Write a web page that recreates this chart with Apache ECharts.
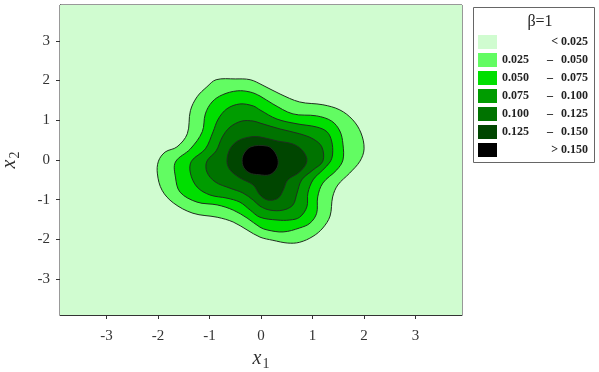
<!DOCTYPE html>
<html lang="en">
<head>
  <meta charset="UTF-8">
  <title>Density contours, β=1</title>
  <script src="https://cdn.jsdelivr.net/npm/echarts@6/dist/echarts.min.js"></script>
  <style>
    * { margin: 0; padding: 0; box-sizing: border-box; }
    body { background: #fff; }
    #chart { width: 599px; height: 372px; }
  </style>
</head>
<body>
<div id="chart"></div>
<script>
// tick labels for both axes
const xTicks = [-3, -2, -1, 0, 1, 2, 3];
const yTicks = [-3, -2, -1, 0, 1, 2, 3];

// legend entries, lowest level first
const levelNames = ['< 0.025', '0.025 – 0.050', '0.050 – 0.075', '0.075 – 0.100',
                    '0.100 – 0.125', '0.125 – 0.150', '> 0.150'];

// whole plotted square (level below 0.025)
const plotExtent = [[-3.9, -3.9], [3.9, -3.9], [3.9, 3.9], [-3.9, 3.9]];

// contour boundaries, [x1, x2]
const contour025 = [[-0.87,2.02],[-0.50,2.04],[-0.21,2.02],[0.02,1.89],[0.37,1.66],[0.75,1.46],
  [1.20,1.39],[1.53,1.26],[1.78,1.01],[1.94,0.68],[2.00,0.28],[1.92,-0.03],[1.72,-0.33],
  [1.49,-0.63],[1.39,-0.93],[1.34,-1.41],[1.20,-1.71],[1.01,-1.92],[0.75,-2.07],[0.52,-2.09],
  [0.23,-2.02],[-0.02,-1.94],[-0.27,-1.76],[-0.54,-1.56],[-0.85,-1.44],[-1.32,-1.34],
  [-1.70,-1.08],[-1.92,-0.76],[-2.01,-0.35],[-1.99,-0.03],[-1.86,0.20],[-1.63,0.33],
  [-1.43,0.66],[-1.37,1.24],[-1.24,1.59],[-1.05,1.84]];
const contour050 = [[-0.75,1.64],[-0.46,1.74],[-0.21,1.71],[-0.02,1.61],[0.23,1.41],[0.62,1.16],
  [1.08,1.11],[1.37,0.98],[1.53,0.73],[1.59,0.40],[1.59,0.00],[1.47,-0.25],[1.20,-0.58],
  [1.10,-0.93],[1.08,-1.34],[0.95,-1.59],[0.75,-1.71],[0.43,-1.81],[0.12,-1.76],[-0.02,-1.69],
  [-0.27,-1.46],[-0.54,-1.26],[-0.85,-1.13],[-1.24,-1.06],[-1.57,-0.81],[-1.66,-0.43],
  [-1.66,-0.05],[-1.37,0.28],[-1.14,0.71],[-1.08,1.16],[-0.95,1.46]];
const contour075 = [[-0.66,1.29],[-0.41,1.41],[-0.15,1.36],[-0.02,1.26],[0.31,1.03],[0.70,0.91],
  [1.08,0.83],[1.28,0.71],[1.37,0.48],[1.39,0.15],[1.34,-0.05],[1.20,-0.25],[1.01,-0.50],
  [0.91,-0.83],[0.89,-1.18],[0.75,-1.44],[0.56,-1.51],[0.31,-1.51],[-0.02,-1.44],[-0.21,-1.26],
  [-0.41,-1.06],[-0.66,-0.96],[-0.99,-0.88],[-1.24,-0.68],[-1.37,-0.33],[-1.35,-0.03],
  [-1.08,0.28],[-0.93,0.71],[-0.83,1.03]];
const contour100 = [[-0.60,0.83],[-0.37,0.98],[-0.15,0.98],[-0.02,0.93],[0.37,0.78],[0.75,0.66],
  [1.01,0.53],[1.18,0.33],[1.20,-0.03],[1.01,-0.25],[0.79,-0.50],[0.70,-0.83],[0.62,-1.13],
  [0.43,-1.26],[0.17,-1.26],[-0.02,-1.16],[-0.15,-1.01],[-0.35,-0.83],[-0.60,-0.71],
  [-0.89,-0.55],[-1.05,-0.30],[-1.05,-0.03],[-0.87,0.23],[-0.75,0.58]];
const contour125 = [[-0.60,0.28],[-0.45,0.48],[-0.21,0.58],[-0.02,0.58],[0.31,0.48],[0.62,0.40],
  [0.81,0.23],[0.89,-0.03],[0.75,-0.30],[0.52,-0.50],[0.43,-0.76],[0.33,-0.96],[0.14,-1.01],
  [-0.02,-0.88],[-0.15,-0.63],[-0.41,-0.45],[-0.60,-0.25],[-0.66,-0.03]];
const contour150 = [[-0.20,0.33],[0.12,0.35],[0.25,0.23],[0.33,0.01],[0.31,-0.20],[0.17,-0.37],
  [-0.04,-0.37],[-0.23,-0.32],[-0.35,-0.15],[-0.35,0.11]];

const levelShapes = [plotExtent, contour025, contour050, contour075, contour100, contour125, contour150];
const levelColors = ['#d0fcd0', '#62fc62', '#00df00', '#009c00', '#007300', '#004600', '#000000'];

const serif = '"Liberation Serif", "DejaVu Serif", serif';

const series = levelShapes.map((pts, i) => ({
  type: 'custom',
  name: levelNames[i],
  coordinateSystem: 'cartesian2d',
  data: pts,
  encode: { x: 0, y: 1 },
  itemStyle: { color: levelColors[i] },
  silent: true,
  z: 2 + i,
  renderItem: function (params, api) {
    if (params.dataIndex !== 0) return;
    const points = pts.map(p => api.coord(p));
    return {
      type: 'polygon',
      shape: { points: points, smooth: i === 0 ? 0 : 0.35 },
      style: { fill: levelColors[i], stroke: i === 0 ? null : '#1f2f1f', lineWidth: i === 0 ? 0 : 1 }
    };
  }
}));

const axisFont = { fontFamily: serif, fontSize: 15, color: '#333', formatter: v => String(v) };
const nameRich = {
  i: { fontFamily: serif, fontStyle: 'italic', fontSize: 20, color: '#333' },
  s: { fontFamily: serif, fontSize: 14, color: '#333', padding: [10, 0, 0, 1] }
};

const chart = echarts.init(document.getElementById('chart'), null, { renderer: 'canvas' });
chart.setOption({
  animation: false,
  grid: { left: 60, right: 137, top: 5, bottom: 57, show: true, borderColor: '#333', borderWidth: 1,
          containLabel: false, outerBoundsMode: 'none' },
  xAxis: {
    type: 'value', min: -3.9, max: 3.9,
    axisLine: { onZero: false, lineStyle: { color: '#333' } },
    axisTick: { customValues: xTicks, length: 4, lineStyle: { color: '#333' } },
    axisLabel: Object.assign({ customValues: xTicks, margin: 14 }, axisFont),
    splitLine: { show: false },
    name: '{i|x}{s|1}', nameLocation: 'middle', nameGap: 31,
    nameTextStyle: { rich: nameRich }
  },
  yAxis: {
    type: 'value', min: -3.9, max: 3.9,
    axisLine: { onZero: false, lineStyle: { color: '#333' } },
    axisTick: { customValues: yTicks, length: 4, lineStyle: { color: '#333' } },
    axisLabel: Object.assign({ customValues: yTicks, margin: 10 }, axisFont),
    splitLine: { show: false },
    name: '{i|x}{s|2}', nameLocation: 'middle', nameGap: 38, nameRotate: 90,
    nameTextStyle: { rich: nameRich }
  },
  graphic: [
    { type: 'rect', z: 0, shape: { x: 473.5, y: 7.5, width: 121, height: 155 },
      style: { fill: '#fff', stroke: '#666', lineWidth: 1 } },
    { type: 'text', z: 1, style: { x: 540, y: 22, text: 'β=1', align: 'center', verticalAlign: 'middle',
      font: '16px ' + serif, fill: '#222' } }
  ],
  legend: {
    orient: 'vertical', left: 478, top: 35, padding: 0,
    itemWidth: 19, itemHeight: 14, itemGap: 4, itemStyle: { borderWidth: 0 },
    selectedMode: false, icon: 'rect',
    data: levelNames,
    formatter: function (name) {
      const parts = name.split(' – ');
      if (parts.length === 1) return '{r|' + name + '}';
      return '{a|' + parts[0] + '}{b|–}{c|' + parts[1] + '}';
    },
    textStyle: {
      rich: {
        r: { width: 86, align: 'right', fontFamily: serif, fontWeight: 'bold', fontSize: 12, color: '#222' },
        a: { width: 38, align: 'left', fontFamily: serif, fontWeight: 'bold', fontSize: 12, color: '#222' },
        b: { width: 20, align: 'center', fontFamily: serif, fontWeight: 'bold', fontSize: 12, color: '#222' },
        c: { width: 28, align: 'right', fontFamily: serif, fontWeight: 'bold', fontSize: 12, color: '#222' }
      }
    }
  },
  series: series
});
</script>
</body>
</html>
